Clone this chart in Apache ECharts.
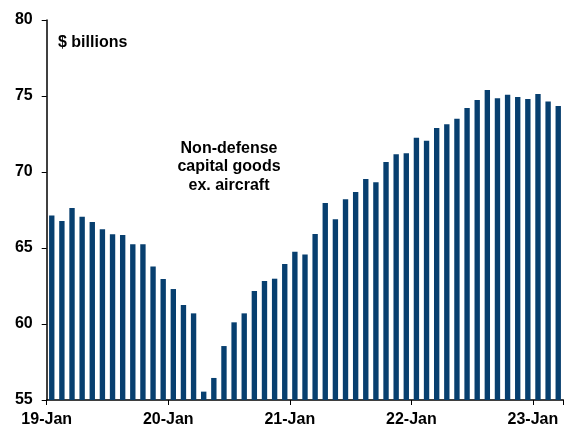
<!DOCTYPE html>
<html>
<head>
<meta charset="utf-8">
<script src="https://cdn.jsdelivr.net/npm/echarts@6/dist/echarts.min.js"></script>
<style>html,body{margin:0;padding:0;background:#fff;}#c{width:569px;height:428px;}</style>
</head>
<body>
<div id="c"></div>
<script>
var months = [];
(function(){
  var names = ['Jan','Feb','Mar','Apr','May','Jun','Jul','Aug','Sep','Oct','Nov','Dec'];
  for (var i = 0; i < 51; i++) {
    months.push(String(19 + Math.floor(i / 12)) + '-' + names[i % 12]);
  }
})();
var values = [
  67.13, 66.78, 67.63, 67.06, 66.71, 66.23, 65.90, 65.86, 65.24, 65.24, 63.79, 62.96,
  62.30, 61.25, 60.70, 55.55, 56.45, 58.55, 60.11, 60.70, 62.17, 62.83, 62.98, 63.95,
  64.76, 64.58, 65.92, 67.96, 66.89, 68.20, 68.68, 69.54, 69.32, 70.66, 71.16, 71.23,
  72.26, 72.06, 72.89, 73.14, 73.51, 74.21, 74.74, 75.39, 74.85, 75.09, 74.93, 74.80,
  75.13, 74.63, 74.34
];
var xTickLabels = ['19-Jan', '20-Jan', '21-Jan', '22-Jan', '23-Jan'];
var yTicks = [55, 60, 65, 70, 75, 80];

var chart = echarts.init(document.getElementById('c'), null, {renderer: 'canvas'});
var font = 'Liberation Sans, Arial, sans-serif';
chart.setOption({
  animation: false,
  backgroundColor: '#ffffff',
  grid: {left: 46.7, right: 5.7, top: 20, bottom: 28, containLabel: false},
  xAxis: [{
    type: 'category',
    data: months,
    boundaryGap: true,
    axisLine: {show: true, lineStyle: {color: '#000', width: 1.5}},
    axisTick: {show: true, length: 5, lineStyle: {color: '#000', width: 1}, interval: function (i) { return i % 12 === 0; }},
    axisLabel: {show: false},
    splitLine: {show: false}
  }, {
    type: 'value',
    position: 'bottom',
    min: 0, max: months.length, interval: 12,
    axisLine: {show: false},
    axisTick: {show: false},
    splitLine: {show: false},
    axisLabel: {
      show: true, margin: 12, color: '#000', fontFamily: font, fontWeight: 'bold', fontSize: 16,
      formatter: function (v) { return (v % 12 === 0 && v / 12 < xTickLabels.length) ? xTickLabels[v / 12] : ''; }
    }
  }],
  yAxis: {
    type: 'value',
    min: yTicks[0], max: yTicks[yTicks.length - 1], interval: 5,
    axisLine: {show: true, lineStyle: {color: '#000', width: 1.5}},
    axisTick: {show: true, length: 5, lineStyle: {color: '#000', width: 1}},
    axisLabel: {color: '#000', fontFamily: font, fontWeight: 'bold', fontSize: 16, margin: 14},
    splitLine: {show: false}
  },
  series: [{
    type: 'bar',
    xAxisIndex: 0,
    data: values,
    barWidth: '53%',
    itemStyle: {color: '#073f6f'}
  }],
  graphic: [
    {type: 'text', left: 58, top: 35, style: {text: '$ billions', fill: '#000', font: 'bold 16px ' + font}},
    {type: 'text', x: 229, y: 139, style: {text: 'Non-defense\ncapital goods\nex. aircraft', fill: '#000', font: 'bold 16px ' + font, textAlign: 'center', lineHeight: 18.5}}
  ]
});
</script>
</body>
</html>
